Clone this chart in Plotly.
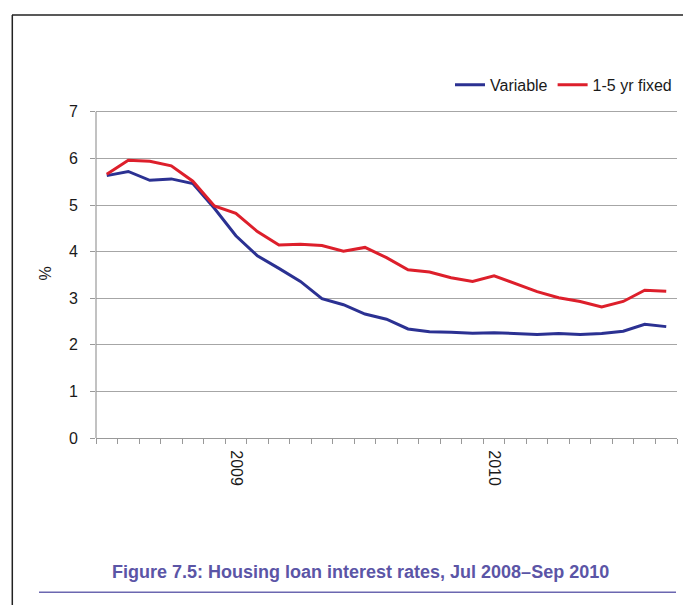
import plotly.graph_objects as go

months = ["Jul 2008", "Aug 2008", "Sep 2008", "Oct 2008", "Nov 2008", "Dec 2008",
          "Jan 2009", "Feb 2009", "Mar 2009", "Apr 2009", "May 2009", "Jun 2009",
          "Jul 2009", "Aug 2009", "Sep 2009", "Oct 2009", "Nov 2009", "Dec 2009",
          "Jan 2010", "Feb 2010", "Mar 2010", "Apr 2010", "May 2010", "Jun 2010",
          "Jul 2010", "Aug 2010", "Sep 2010"]

variable = [5.63, 5.72, 5.53, 5.56, 5.46, 4.93, 4.34, 3.91, 3.64, 3.36, 2.99, 2.86,
            2.66, 2.55, 2.34, 2.28, 2.27, 2.25, 2.26, 2.24, 2.22, 2.24, 2.22, 2.24,
            2.29, 2.44, 2.39]

fixed = [5.66, 5.96, 5.94, 5.84, 5.51, 4.98, 4.82, 4.43, 4.14, 4.16, 4.13, 4.01,
         4.09, 3.87, 3.61, 3.56, 3.44, 3.36, 3.48, 3.31, 3.14, 3.01, 2.93, 2.81,
         2.93, 3.17, 3.15]

tick_labels = ["2009" if m == "Jan 2009" else "2010" if m == "Jan 2010" else "" for m in months]

FONT = "Liberation Sans Narrow, Arial Narrow, Liberation Sans, Arial, sans-serif"

fig = go.Figure()
fig.add_trace(go.Scatter(x=months, y=variable, mode="lines", name="Variable",
                         line=dict(color="#2b3192", width=3)))
fig.add_trace(go.Scatter(x=months, y=fixed, mode="lines", name="1-5 yr fixed",
                         line=dict(color="#dd1f2b", width=3)))

OFF = 8  # page body margin
YMAX = 7.06
unit = (438.3 - 112) / 7.0
W, H = 691 - OFF, 605 - OFF
L, R = 96 - OFF, 14
T = 112 - OFF - (YMAX - 7) * unit
B = H - (438.3 - OFF)
pw, ph = W - L - R, H - T - B

def px(xpix):
    return (xpix - OFF - L) / pw

def py(ypix):
    return (H - B - (ypix - OFF)) / ph

fig.update_layout(
    width=W, height=H,
    margin=dict(l=L, r=R, t=T, b=B, autoexpand=False),
    paper_bgcolor="white", plot_bgcolor="white",
    font=dict(family=FONT, size=16, color="#1a1a1a"),
    showlegend=True,
    legend=dict(orientation="h", x=1.0, xanchor="right", y=py(85), yanchor="middle",
                font=dict(family=FONT, size=16, color="#1a1a1a"),
                itemwidth=30, tracegroupgap=0, bgcolor="rgba(0,0,0,0)"),
    xaxis=dict(type="category", tickson="boundaries", tickvals=months, ticktext=tick_labels,
               tickangle=90, ticks="outside", ticklen=5, tickcolor="#999999",
               showline=True, linecolor="#999999", linewidth=1.2,
               showgrid=False, range=[-0.5, len(months) - 0.5],
               tickfont=dict(family=FONT, size=16), ticklabelstandoff=8),
    yaxis=dict(range=[0, YMAX], tickvals=[0, 1, 2, 3, 4, 5, 6, 7], ticks="outside", ticklen=5,
               tickcolor="#999999",
               showline=False,
               showgrid=True, gridcolor="#a6a6a6", gridwidth=1.2,
               zeroline=False, ticklabelstandoff=9,
               title=dict(text="%", font=dict(family=FONT, size=16), standoff=13),
               tickfont=dict(family=FONT, size=16)),
    shapes=[
        dict(type="line", xref="paper", yref="y", x0=0, x1=0, y0=0, y1=7,
             line=dict(color="#999999", width=1.2)),
        dict(type="line", xref="paper", yref="paper", x0=px(12), x1=px(700), y0=py(15.3), y1=py(15.3),
             line=dict(color="#222222", width=1.5)),
        dict(type="line", xref="paper", yref="paper", x0=px(12.3), x1=px(12.3), y0=py(15.3), y1=py(615),
             line=dict(color="#222222", width=1.5)),
        dict(type="line", xref="paper", yref="paper", x0=px(39), x1=px(676), y0=py(592.5), y1=py(592.5),
             line=dict(color="#6b67b0", width=1.5)),
    ],
    annotations=[
        dict(text="<b>Figure 7.5: Housing loan interest rates, Jul 2008\u2013Sep 2010</b>",
             xref="paper", yref="paper", x=px(360), y=py(572), xanchor="center", yanchor="middle",
             showarrow=False, font=dict(family=FONT, size=18, color="#5b55a6")),
    ],
)

fig.write_html("out.html")
